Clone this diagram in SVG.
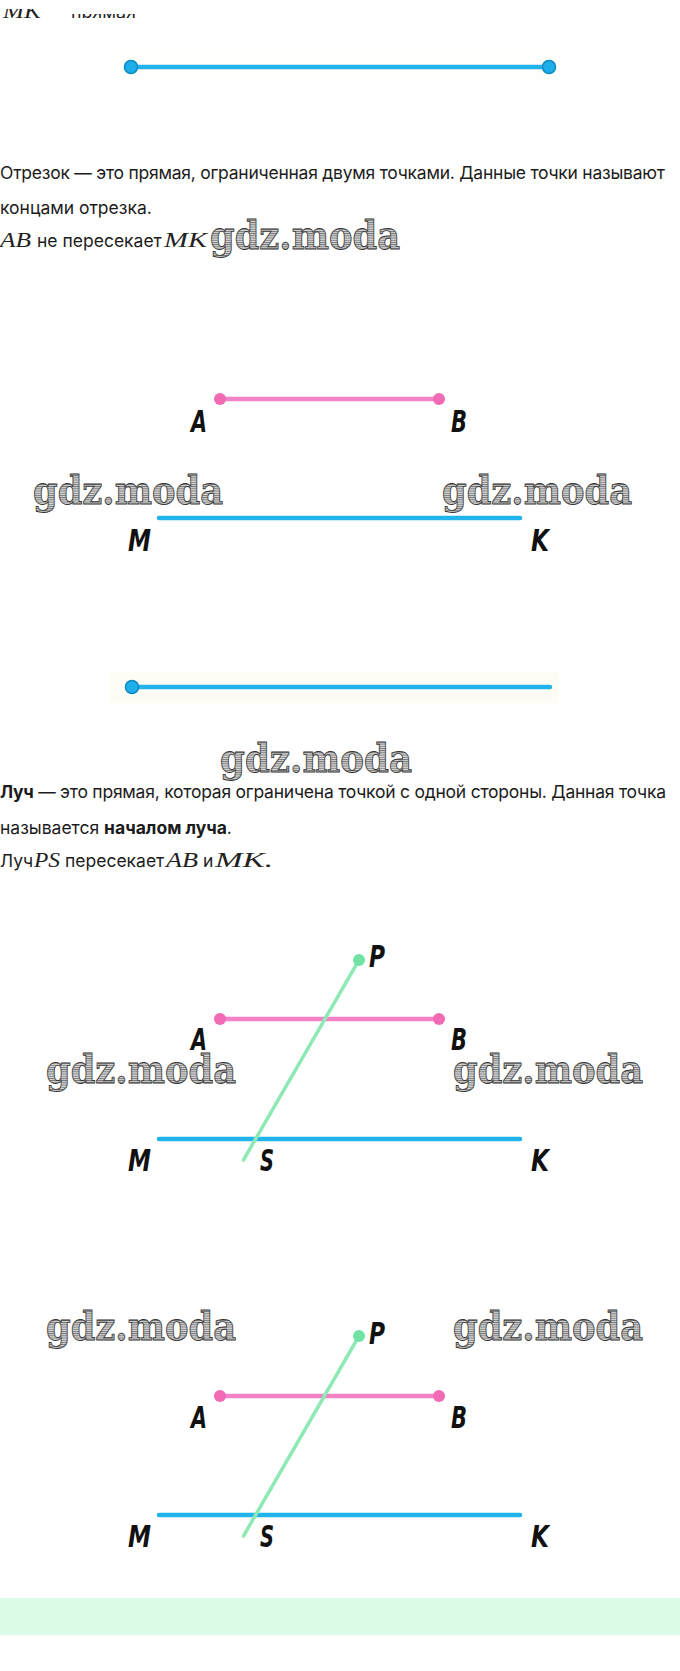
<svg xmlns="http://www.w3.org/2000/svg" width="680" height="1671" viewBox="0 0 680 1671">
<defs>
<style>
.txt{font-family:Inter,'Noto Sans',sans-serif;font-size:17.5px;fill:#1c1c1c}
.b{font-weight:bold}
.math{font-family:'Liberation Serif',serif;font-style:italic;font-size:20px;fill:#222}
.lbl{font-family:'DejaVu Sans Condensed','DejaVu Sans',sans-serif;font-stretch:condensed;font-weight:bold;font-style:italic;font-size:30px;fill:#111}
.wm{font-family:'DejaVu Serif',serif;font-weight:bold;font-size:40px;fill:url(#hatch);stroke:#363636;stroke-width:0.9}
.blue{stroke:#23b3ec;stroke-width:4.5;stroke-linecap:round;fill:none}
.pink{stroke:#f383c6;stroke-width:4.5;stroke-linecap:round;fill:none}
.green{stroke:#8ee9b5;stroke-width:3.5;stroke-linecap:round;fill:none}
.bdot{fill:#1eaee9;stroke:#0d8ac2;stroke-width:1.5}
.pdot{fill:#f16ab4}
.gdot{fill:#72e2a4}
</style>
<pattern id="hatch" width="4" height="2.2" patternUnits="userSpaceOnUse">
<rect width="4" height="2.2" fill="#d6d6d6"/>
<rect width="4" height="0.9" fill="#747474"/>
</pattern>
<clipPath id="clipA"><rect x="0" y="9" width="60" height="9"/></clipPath>
<clipPath id="clipB"><rect x="70" y="14" width="100" height="4"/></clipPath>
</defs>
<rect width="680" height="1671" fill="#ffffff"/>

<g id="top-text">
<text class="math" x="3" y="18" clip-path="url(#clipA)" textLength="38" lengthAdjust="spacingAndGlyphs">MK</text>
<text class="txt" x="48" y="18" clip-path="url(#clipB)" textLength="88" lengthAdjust="spacingAndGlyphs">— прямая</text>
</g>

<g id="fig1">
<rect x="113" y="50" width="442" height="31" fill="#fefefa"/>
<line class="blue" x1="131" y1="67" x2="549" y2="67"/>
<circle class="bdot" cx="131" cy="67" r="6.5"/>
<circle class="bdot" cx="549" cy="67" r="6.5"/>
</g>

<g id="text1">
<text class="txt" x="0" y="179" textLength="665" lengthAdjust="spacing">Отрезок — это прямая, ограниченная двумя точками. Данные точки называют</text>
<text class="txt" x="0" y="214">концами отрезка.</text>
<text class="math" x="0" y="247" textLength="31" lengthAdjust="spacingAndGlyphs">AB</text>
<text class="txt" x="37" y="247">не пересекает</text>
<text class="math" x="164" y="247" textLength="43" lengthAdjust="spacingAndGlyphs">MK</text>
<text class="wm" x="210" y="249" textLength="190" lengthAdjust="spacingAndGlyphs">gdz.moda</text>
</g>

<g id="fig2">
<text class="wm" x="33" y="504" textLength="190" lengthAdjust="spacingAndGlyphs">gdz.moda</text>
<text class="wm" x="442" y="504" textLength="190" lengthAdjust="spacingAndGlyphs">gdz.moda</text>
<g id="f2-AB">
<line class="pink" x1="220" y1="399" x2="439" y2="399"/>
<circle class="pdot" cx="220" cy="399" r="6"/>
<circle class="pdot" cx="439" cy="399" r="6"/>
<text class="lbl" x="191" y="432" textLength="16" lengthAdjust="spacingAndGlyphs">A</text>
<text class="lbl" x="451" y="432" textLength="16" lengthAdjust="spacingAndGlyphs">B</text>
</g>
<g id="f2-MK">
<line class="blue" x1="159" y1="518" x2="520" y2="518"/>
<text class="lbl" x="128" y="551" textLength="23" lengthAdjust="spacingAndGlyphs">M</text>
<text class="lbl" x="531" y="551" textLength="18" lengthAdjust="spacingAndGlyphs">K</text>
</g>
</g>

<g id="fig3">
<rect x="110" y="672" width="449" height="31" fill="#fdfdf5"/>
<line class="blue" x1="132" y1="687" x2="550" y2="687"/>
<circle class="bdot" cx="132" cy="687" r="6.5"/>
<text class="wm" x="220" y="772" textLength="192" lengthAdjust="spacingAndGlyphs">gdz.moda</text>
</g>

<g id="text2">
<text class="txt" x="0" y="798" textLength="666" lengthAdjust="spacing"><tspan class="b">Луч</tspan> — это прямая, которая ограничена точкой с одной стороны. Данная точка</text>
<text class="txt" x="0" y="834">называется <tspan class="b">началом луча</tspan>.</text>
<text class="txt" x="0" y="867">Луч</text>
<text class="math" x="34" y="867" textLength="26" lengthAdjust="spacingAndGlyphs">PS</text>
<text class="txt" x="65" y="867">пересекает</text>
<text class="math" x="166" y="867" textLength="32" lengthAdjust="spacingAndGlyphs">AB</text>
<text class="txt" x="203" y="867">и</text>
<text class="math" x="215" y="867" textLength="58" lengthAdjust="spacingAndGlyphs">MK.</text>
</g>

<g id="fig4">
<text class="wm" x="46" y="1083" textLength="190" lengthAdjust="spacingAndGlyphs">gdz.moda</text>
<text class="wm" x="453" y="1083" textLength="190" lengthAdjust="spacingAndGlyphs">gdz.moda</text>
<g id="f4-AB">
<line class="pink" x1="220" y1="1019" x2="439" y2="1019"/>
<circle class="pdot" cx="220" cy="1019" r="6"/>
<circle class="pdot" cx="439" cy="1019" r="6"/>
<text class="lbl" x="191" y="1050" textLength="16" lengthAdjust="spacingAndGlyphs">A</text>
<text class="lbl" x="451" y="1050" textLength="16" lengthAdjust="spacingAndGlyphs">B</text>
</g>
<g id="f4-MK">
<line class="blue" x1="159" y1="1139" x2="520" y2="1139"/>
<text class="lbl" x="128" y="1171" textLength="23" lengthAdjust="spacingAndGlyphs">M</text>
<text class="lbl" x="531" y="1171" textLength="18" lengthAdjust="spacingAndGlyphs">K</text>
</g>
<g id="f4-PS">
<line class="green" x1="359" y1="960" x2="243.5" y2="1160"/>
<circle class="gdot" cx="359" cy="960" r="6"/>
<text class="lbl" x="369" y="967" textLength="16" lengthAdjust="spacingAndGlyphs">P</text>
<text class="lbl" x="260" y="1171" textLength="14" lengthAdjust="spacingAndGlyphs">S</text>
</g>
</g>

<g id="fig5">
<text class="wm" x="46" y="1340" textLength="190" lengthAdjust="spacingAndGlyphs">gdz.moda</text>
<text class="wm" x="453" y="1340" textLength="190" lengthAdjust="spacingAndGlyphs">gdz.moda</text>
<g id="f5-AB">
<line class="pink" x1="220" y1="1396" x2="439" y2="1396"/>
<circle class="pdot" cx="220" cy="1396" r="6"/>
<circle class="pdot" cx="439" cy="1396" r="6"/>
<text class="lbl" x="191" y="1428" textLength="16" lengthAdjust="spacingAndGlyphs">A</text>
<text class="lbl" x="451" y="1428" textLength="16" lengthAdjust="spacingAndGlyphs">B</text>
</g>
<g id="f5-MK">
<line class="blue" x1="159" y1="1515" x2="520" y2="1515"/>
<text class="lbl" x="128" y="1547" textLength="23" lengthAdjust="spacingAndGlyphs">M</text>
<text class="lbl" x="531" y="1547" textLength="18" lengthAdjust="spacingAndGlyphs">K</text>
</g>
<g id="f5-PS">
<line class="green" x1="359" y1="1336" x2="243.5" y2="1536"/>
<circle class="gdot" cx="359" cy="1336" r="6"/>
<text class="lbl" x="369" y="1344" textLength="16" lengthAdjust="spacingAndGlyphs">P</text>
<text class="lbl" x="260" y="1547" textLength="14" lengthAdjust="spacingAndGlyphs">S</text>
</g>
</g>

<rect id="band" x="0" y="1598" width="680" height="37" fill="#dcfce8"/>
</svg>
